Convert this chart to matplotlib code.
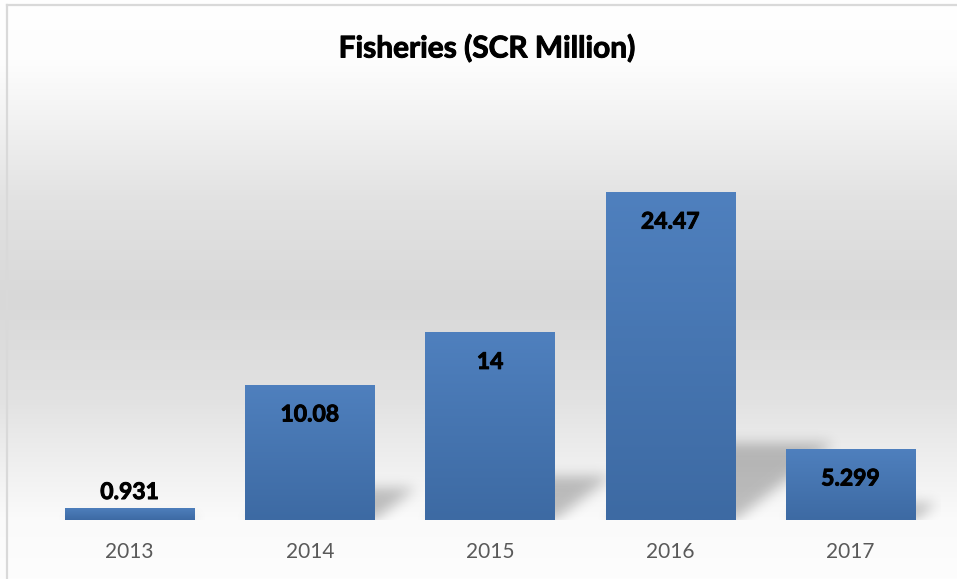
import matplotlib
matplotlib.use("Agg")
import matplotlib.pyplot as plt
import matplotlib.patheffects as pe
import numpy as np
from matplotlib.colors import LinearSegmentedColormap
from matplotlib.lines import Line2D

plt.rcParams['font.family'] = ['Lato', 'DejaVu Sans']

# data
years = ['2013', '2014', '2015', '2016', '2017']
values = [0.931, 10.08, 14, 24.47, 5.299]
labels = ['0.931', '10.08', '14', '24.47', '5.299']

W, H = 957, 579
fig = plt.figure(figsize=(W / 100, H / 100), dpi=100)

# chart-area background: white at top, grey in the middle, near white at bottom
bg = fig.add_axes([0, 0, 1, 1], zorder=-2)
stops_y = np.array([0, 60, 100, 200, 300, 400, 467, 517, 579]) / H
stops_c = np.array([255, 253, 246, 226, 216, 226, 240, 250, 253]) / 255
yy = np.linspace(0, 1, H)
shade = np.interp(yy, stops_y, stops_c)
bg_img = np.repeat(np.repeat(shade[:, None, None], 4, axis=1), 3, axis=2)
bg.imshow(bg_img, aspect='auto', extent=[0, 1, 1, 0], interpolation='bilinear')
bg.set_xlim(0, 1)
bg.set_ylim(1, 0)
bg.axis('off')

# chart frame (left and top edges)
fig.add_artist(Line2D([6.5 / W, 6.5 / W], [0, 1 - 4.5 / H], color='#d9d9d9', lw=1.6,
                      transform=fig.transFigure))
fig.add_artist(Line2D([6.5 / W, 1], [1 - 4.5 / H, 1 - 4.5 / H], color='#d9d9d9', lw=1.6,
                      transform=fig.transFigure))

ax_l, ax_b, ax_w, ax_h = 39.5, 59, 901, 402
ax = fig.add_axes([ax_l / W, ax_b / H, ax_w / W, ax_h / H])
ax.set_facecolor('none')
x = np.arange(len(years))
ymax = 30
bw = 0.716

# perspective shadows behind each bar
px_x = ax_w / len(years)
px_y = ax_h / ymax
gx = -0.5 + (np.arange(ax_w) + 0.5) / px_x
gy = (np.arange(ax_h) + 0.5) / px_y
GX, GY = np.meshgrid(gx, gy)
mask = np.zeros_like(GX)
for xi, v in zip(x, values):
    sh = 0.235 * v
    shift = 0.30 * v * px_y / px_x
    t = np.clip(GY / sh, 0, 1)
    inside = (GY <= sh) & (GX >= xi - bw / 2 + t * shift) & (GX <= xi + bw / 2 + t * shift)
    mask[inside] = 1.0
k = np.arange(-18, 19)
kern = np.exp(-0.5 * (k / 6.5) ** 2)
kern /= kern.sum()
blur = np.apply_along_axis(lambda r: np.convolve(r, kern, mode='same'), 1, mask)
blur = np.apply_along_axis(lambda c: np.convolve(c, kern, mode='same'), 0, blur)
rgba = np.zeros((ax_h, ax_w, 4))
rgba[..., 3] = 0.24 * blur
ax.imshow(rgba, extent=[-0.5, len(years) - 0.5, 0, ymax], origin='lower',
          aspect='auto', zorder=1, interpolation='bilinear')

# bars with a vertical blue gradient
bars = ax.bar(x, values, width=bw, color='none', zorder=2)
cmap = LinearSegmentedColormap.from_list('bar', ['#3d6aa3', '#4f80be'])
grad = np.linspace(0, 1, 256)[:, None]
for b in bars:
    x0, y0 = b.get_x(), b.get_y()
    im = ax.imshow(grad, cmap=cmap, extent=[x0, x0 + b.get_width(), y0, y0 + b.get_height()],
                   origin='lower', aspect='auto', zorder=2)
    im.set_clip_path(b)
ax.set_xlim(-0.5, len(years) - 0.5)
ax.set_ylim(0, ymax)

# value labels: inside the top of the bar, above it when the bar is too short
heavy = [pe.withStroke(linewidth=0.7, foreground='black')]
for xi, v, lab in zip(x, values, labels):
    dy = -21.6 if v * px_y > 40 else 10.8
    ax.annotate(lab, (xi, v), xytext=(0, dy), textcoords='offset points',
                ha='center', va='center', fontsize=16.5, fontweight='bold',
                color='black', zorder=3, path_effects=heavy)

ax.set_xticks(x)
ax.set_xticklabels(years, fontsize=15, color='#595959')
ax.tick_params(axis='x', length=0, pad=16)
ax.set_yticks([])
for s in ax.spines.values():
    s.set_visible(False)

fig.text(487 / W, 1 - 48 / H, 'Fisheries (SCR Million)', ha='center', va='center',
         fontsize=21.5, fontweight='bold', color='black', path_effects=heavy)

fig.savefig('out.png', dpi=100)
